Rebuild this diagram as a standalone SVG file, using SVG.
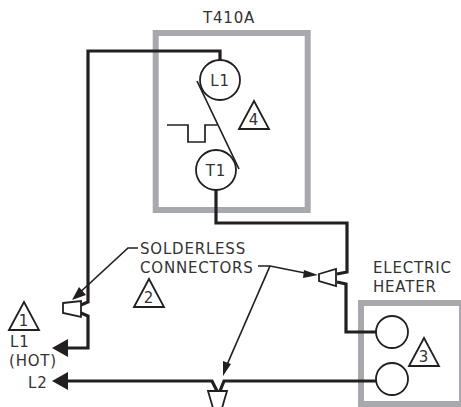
<svg xmlns="http://www.w3.org/2000/svg" width="461" height="407" viewBox="0 0 461 407">
<style>
text{font-family:"DejaVu Sans",sans-serif;font-size:15px;letter-spacing:.8px;fill:#333}
.box{fill:none;stroke:#a7a9ac;stroke-width:6}
.wire{fill:none;stroke:#231f20;stroke-width:3.2}
.thin{fill:none;stroke:#231f20;stroke-width:1.7}
.term{fill:#fff;stroke:#231f20;stroke-width:1.8}
.head{fill:#231f20}
.tri{fill:#fff;stroke:#231f20;stroke-width:1.8}
</style>
<g id="t410a"><rect class="box" x="155.700" y="33" width="152" height="177"/><text x="203" y="23">T410A</text></g>
<g id="heater"><rect class="box" x="361" y="303" width="101" height="101"/><text x="373" y="273">ELECTRIC</text><text x="373" y="292">HEATER</text></g>
<g id="connectors">
<path class="wire" d="M220 62V51H88V302L81 305"/>
<path class="wire" d="M81 313L88 316V348H66"/>
<path class="head" d="M52 348L68 339V357Z"/>
<path class="wire" d="M216 188V223H347V272L337 274"/>
<path class="wire" d="M337 282L346 284V332H376"/>
<path class="wire" d="M66 381H212L217 391M220 391L224 381H376"/>
<path class="head" d="M52 381L68 372V390Z"/>
<path class="thin" d="M138 248H128L76 296"/>
<path class="head" d="M72 300L79 287L86 295Z"/>
<path class="thin" d="M258 266H270L310 274"/>
<path class="head" d="M318 275L304 270L303 278Z"/>
<path class="thin" d="M270 266L226 367"/>
<path class="head" d="M223 376L223 361L231 364Z"/>
</g>
<g id="conn-1"><path class="term" d="M63 303L81 301V317L63 313Z"/></g>
<g id="conn-2"><path class="term" d="M319 274L336 269V286L319 281Z"/></g>
<g id="conn-3"><path class="term" d="M208 391H227L222 408H213Z"/></g>
<g id="switch"><path class="thin" d="M197 81L239 169M167 125H188V142H205V125H217"/></g>
<g id="L1"><circle class="term" cx="220" cy="80" r="20"/><text x="220" y="86" text-anchor="middle">L1</text></g>
<g id="T1"><circle class="term" cx="216" cy="170" r="20"/><text x="216" y="176" text-anchor="middle">T1</text></g>
<g id="H1"><circle class="term" cx="392" cy="332" r="16"/></g>
<g id="H2"><circle class="term" cx="392" cy="379" r="16"/></g>
<g id="tri1"><path class="tri" d="M9 330L24 302L39 330Z"/><text x="24" y="326" text-anchor="middle">1</text></g>
<g id="tri2"><path class="tri" d="M134 307L149 279L164 307Z"/><text x="149" y="303" text-anchor="middle">2</text></g>
<g id="tri3"><path class="tri" d="M409 366L424 338L439 366Z"/><text x="424" y="362" text-anchor="middle">3</text></g>
<g id="tri4"><path class="tri" d="M239 129L254 101L269 129Z"/><text x="254" y="125" text-anchor="middle">4</text></g>
<g id="labels"><text x="140" y="254">SOLDERLESS</text><text x="140" y="273">CONNECTORS</text><text x="10" y="347">L1</text><text x="9" y="366">(HOT)</text><text x="28" y="388">L2</text></g>
</svg>
